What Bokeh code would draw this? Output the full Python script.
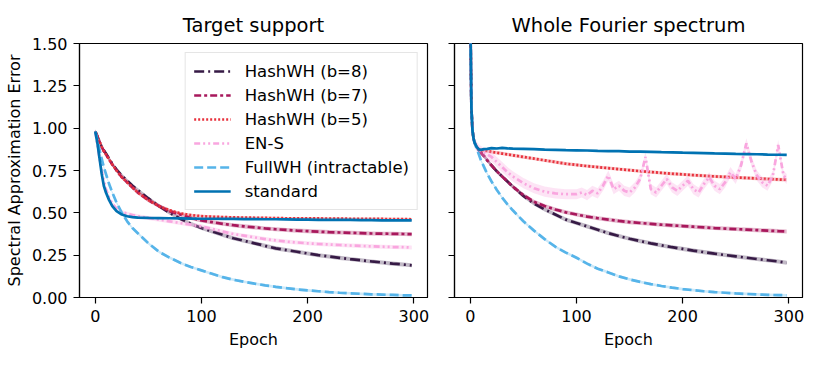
from bokeh.plotting import figure
from bokeh.layouts import row
from bokeh.models import (Range1d, FixedTicker, NumeralTickFormatter, Legend, LegendItem,
                          CustomJSTickFormatter)
from bokeh.embed import file_html
from bokeh.resources import INLINE

# ---------------- data ----------------
epochs = [0, 1, 2, 3, 4, 6, 8, 10, 13, 16, 20, 25, 30, 35, 40, 50, 60, 70, 80, 90,
          100, 110, 120, 130, 140, 150, 160, 170, 180, 190, 200, 210, 220, 230, 240,
          250, 260, 270, 280, 290, 298]

series_names = ["HashWH (b=8)", "HashWH (b=7)", "HashWH (b=5)", "EN-S",
                "FullWH (intractable)", "standard"]

# Target support (left panel)
target_b8 = [0.98, 0.965, 0.95, 0.935, 0.92, 0.89, 0.87, 0.85, 0.82, 0.79, 0.755, 0.72, 0.69, 0.66, 0.635,
             0.585, 0.54, 0.50, 0.465, 0.435, 0.41, 0.39, 0.37, 0.35, 0.335, 0.32, 0.305, 0.29, 0.28,
             0.27, 0.26, 0.25, 0.242, 0.234, 0.227, 0.22, 0.213, 0.207, 0.2, 0.195, 0.19]
target_b7 = [0.98, 0.965, 0.95, 0.935, 0.92, 0.89, 0.865, 0.845, 0.815, 0.785, 0.75, 0.71, 0.68, 0.65, 0.62,
             0.575, 0.54, 0.51, 0.49, 0.47, 0.455, 0.445, 0.435, 0.427, 0.42, 0.414, 0.408, 0.403, 0.399,
             0.395, 0.392, 0.389, 0.386, 0.384, 0.382, 0.38, 0.378, 0.377, 0.376, 0.375, 0.374]
target_b5 = [0.98, 0.965, 0.95, 0.935, 0.92, 0.89, 0.865, 0.845, 0.815, 0.785, 0.75, 0.71, 0.68, 0.65, 0.62,
             0.575, 0.54, 0.515, 0.497, 0.487, 0.48, 0.477, 0.475, 0.473, 0.472, 0.471, 0.47, 0.469, 0.468,
             0.468, 0.467, 0.467, 0.466, 0.466, 0.465, 0.465, 0.464, 0.464, 0.463, 0.463, 0.462]
target_ens = [0.98, 0.94, 0.90, 0.86, 0.82, 0.75, 0.69, 0.64, 0.59, 0.555, 0.525, 0.505, 0.495, 0.487, 0.48,
              0.47, 0.46, 0.45, 0.44, 0.43, 0.42, 0.405, 0.39, 0.375, 0.365, 0.355, 0.345, 0.337, 0.33,
              0.325, 0.32, 0.316, 0.313, 0.31, 0.307, 0.305, 0.302, 0.3, 0.298, 0.297, 0.295]
target_full = [0.98, 0.955, 0.93, 0.90, 0.87, 0.82, 0.77, 0.73, 0.67, 0.62, 0.56, 0.50, 0.45, 0.41, 0.38,
               0.32, 0.27, 0.235, 0.205, 0.18, 0.16, 0.14, 0.12, 0.105, 0.093, 0.082, 0.072, 0.063, 0.055,
               0.048, 0.042, 0.037, 0.032, 0.028, 0.025, 0.022, 0.019, 0.017, 0.015, 0.013, 0.012]
target_std = [0.98, 0.945, 0.91, 0.865, 0.82, 0.73, 0.66, 0.62, 0.575, 0.54, 0.51, 0.49, 0.48, 0.475, 0.472,
              0.47, 0.469, 0.468, 0.467, 0.466, 0.465, 0.465, 0.464, 0.464, 0.463, 0.463, 0.462, 0.462, 0.461,
              0.46, 0.46, 0.459, 0.459, 0.458, 0.458, 0.457, 0.457, 0.456, 0.456, 0.455, 0.455]

# Whole Fourier spectrum (right panel)
whole_b8 = [1.7, 1.12, 0.99, 0.94, 0.915, 0.89, 0.87, 0.855, 0.835, 0.81, 0.78, 0.745, 0.715, 0.685, 0.655,
            0.6, 0.555, 0.52, 0.49, 0.46, 0.44, 0.42, 0.40, 0.38, 0.363, 0.347, 0.333, 0.32, 0.308,
            0.297, 0.287, 0.277, 0.268, 0.259, 0.251, 0.243, 0.235, 0.227, 0.22, 0.213, 0.205]
whole_b7 = [1.7, 1.12, 0.99, 0.94, 0.915, 0.89, 0.87, 0.855, 0.835, 0.81, 0.78, 0.745, 0.715, 0.685, 0.655,
            0.605, 0.565, 0.54, 0.52, 0.503, 0.49, 0.478, 0.468, 0.46, 0.452, 0.445, 0.44, 0.435, 0.43,
            0.426, 0.422, 0.418, 0.414, 0.41, 0.407, 0.404, 0.401, 0.398, 0.395, 0.392, 0.39]
whole_b5 = [1.7, 1.12, 0.99, 0.94, 0.915, 0.89, 0.875, 0.87, 0.868, 0.865, 0.86, 0.855, 0.85, 0.845, 0.84,
            0.83, 0.82, 0.81, 0.8, 0.79, 0.783, 0.776, 0.77, 0.764, 0.758, 0.752, 0.746, 0.741, 0.736,
            0.731, 0.727, 0.723, 0.719, 0.715, 0.712, 0.709, 0.706, 0.703, 0.7, 0.697, 0.695]
whole_full = [1.7, 1.12, 0.99, 0.94, 0.915, 0.88, 0.845, 0.81, 0.77, 0.73, 0.685, 0.635, 0.59, 0.55, 0.515,
              0.45, 0.395, 0.345, 0.3, 0.265, 0.235, 0.2, 0.17, 0.148, 0.125, 0.107, 0.092, 0.079, 0.068,
              0.058, 0.05, 0.043, 0.037, 0.032, 0.028, 0.024, 0.021, 0.018, 0.016, 0.014, 0.013]
whole_std = [1.7, 1.12, 0.99, 0.94, 0.915, 0.89, 0.875, 0.872, 0.876, 0.878, 0.882, 0.88, 0.884, 0.881, 0.879,
             0.878, 0.876, 0.873, 0.872, 0.87, 0.869, 0.868, 0.866, 0.865, 0.864, 0.862, 0.861, 0.86, 0.858,
             0.857, 0.855, 0.854, 0.853, 0.851, 0.85, 0.848, 0.847, 0.846, 0.844, 0.843, 0.842]

ens_epochs = [0, 1, 2, 3, 4, 6, 8, 10, 13, 16, 20, 25, 30, 35, 40, 50, 60, 70, 80, 90,
              100, 105, 110, 115, 120, 125, 130, 135, 140, 145, 150, 155, 160, 165, 170, 175, 180, 185,
              190, 195, 200, 205, 210, 215, 220, 225, 230, 235, 240, 245, 250, 255, 260, 265, 270, 275,
              280, 285, 290, 295, 298]
whole_ens = [1.7, 1.12, 0.99, 0.94, 0.915, 0.89, 0.875, 0.865, 0.855, 0.845, 0.83, 0.8, 0.77, 0.74, 0.715,
             0.675, 0.645, 0.625, 0.615, 0.61,
             0.61, 0.62, 0.605, 0.63, 0.615, 0.66, 0.72, 0.64, 0.66, 0.63, 0.62, 0.65, 0.70, 0.83, 0.64,
             0.62, 0.66, 0.7, 0.65, 0.63, 0.66, 0.69, 0.64, 0.62, 0.67, 0.71, 0.66, 0.64, 0.68, 0.74,
             0.7, 0.78, 0.91, 0.8, 0.72, 0.68, 0.66, 0.72, 0.9, 0.72, 0.7]

# spread of the shaded band (±) per series
band_target = [0.012, 0.012, 0.008, 0.012, 0.008, 0.005]
band_whole = [0.012, 0.012, 0.01, 0.03, 0.008, 0.005]

x_ticks = [0, 100, 200, 300]
y_ticks = [0.0, 0.25, 0.5, 0.75, 1.0, 1.25, 1.5]

# ---------------- styles ----------------
colors = ["#361a45", "#a8185c", "#e8313c", "#f9a6df", "#56b4e9", "#0072b2"]
dashes = ["10 4 2 4", "7 3 3 3", "2 2", "6 3 2 3 2 3", "9 4", "solid"]
FONT = "DejaVu Sans"


def style(p, show_ylabels):
    p.title.text_font = FONT
    p.title.text_font_size = "19.5px"
    p.title.text_font_style = "normal"
    p.title.text_color = "black"
    p.title.align = "center"
    p.title.offset = 0
    p.title.standoff = 13
    p.xgrid.visible = False
    p.ygrid.visible = False
    p.outline_line_color = "black"
    p.outline_line_width = 1.2
    for ax in (p.xaxis[0], p.yaxis[0]):
        ax.axis_line_color = "black"
        ax.axis_line_width = 1.2
        ax.major_tick_line_width = 1.2
        ax.major_tick_out = 6
        ax.major_tick_in = 0
        ax.minor_tick_line_color = None
        ax.major_label_text_font = FONT
        ax.major_label_text_font_size = "16px"
        ax.major_label_text_color = "black"
        ax.major_label_standoff = 6
        ax.axis_label_text_font = FONT
        ax.axis_label_text_font_size = "16px"
        ax.axis_label_text_font_style = "normal"
        ax.axis_label_text_color = "black"
        ax.axis_label_standoff = 5
    p.xaxis.ticker = FixedTicker(ticks=x_ticks)
    p.yaxis.ticker = FixedTicker(ticks=y_ticks)
    p.xaxis.axis_label = "Epoch"
    if show_ylabels:
        p.yaxis.formatter = NumeralTickFormatter(format="0.00")
        p.yaxis.axis_label = "Spectral Approximation Error"
    else:
        p.yaxis.formatter = CustomJSTickFormatter(code="return '';")


def make(title, xs_list, ys_list, bands, show_ylabels, mbl, mbr):
    p = figure(frame_width=348, frame_height=254, title=title,
               x_range=Range1d(-14.9, 312.9), y_range=Range1d(0, 1.5),
               output_backend="svg", toolbar_location=None,
               min_border_left=mbl, min_border_right=mbr, min_border_top=43, min_border_bottom=10)
    style(p, show_ylabels)
    renderers = []
    for xs, ys, b, c, d in zip(xs_list, ys_list, bands, colors, dashes):
        lo = [v - b for v in ys]
        hi = [v + b for v in ys]
        p.varea(x=xs, y1=lo, y2=hi, fill_color=c, fill_alpha=0.3)
        r = p.line(xs, ys, line_color=c, line_width=2.7, line_dash=d)
        renderers.append(r)
    return p, renderers


p1, rs1 = make("Target support", [epochs] * 6,
               [target_b8, target_b7, target_b5, target_ens, target_full, target_std],
               band_target, True, 79, 10)
p2, rs2 = make("Whole Fourier spectrum", [epochs, epochs, epochs, ens_epochs, epochs, epochs],
               [whole_b8, whole_b7, whole_b5, whole_ens, whole_full, whole_std],
               band_whole, False, 17, 14)

legend = Legend(items=[LegendItem(label=n, renderers=[r]) for n, r in zip(series_names, rs1)],
                location="top_right")
legend.label_text_font = FONT
legend.label_text_font_size = "16.5px"
legend.label_text_color = "black"
legend.glyph_width = 37
legend.glyph_height = 20
legend.label_height = 20
legend.label_standoff = 14
legend.spacing = 4
legend.padding = 8
legend.margin = 9
legend.border_line_color = "#cccccc"
legend.border_line_width = 1
legend.background_fill_alpha = 0.8
p1.add_layout(legend, "center")

layout = row(p1, p2)
open("out.html", "w").write(file_html(layout, INLINE))
